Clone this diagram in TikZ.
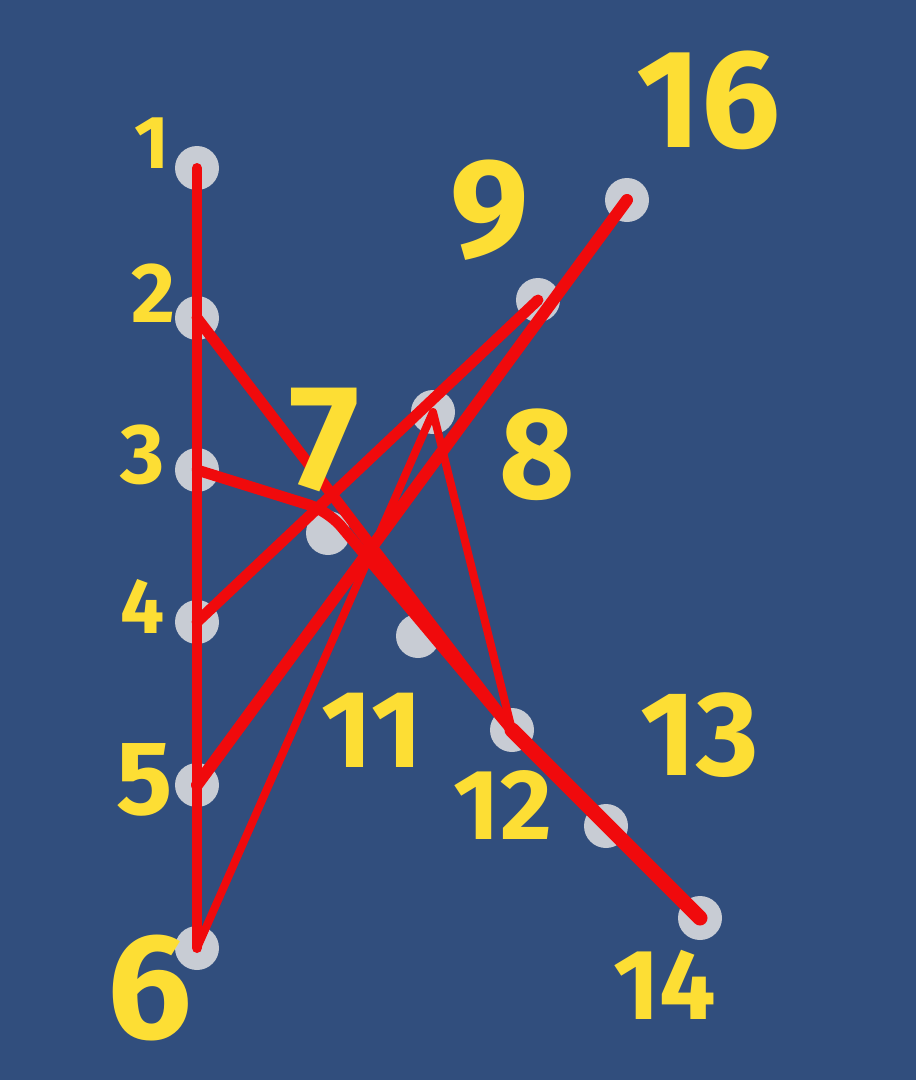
\documentclass[tikz,border=0pt]{standalone}
\usepackage{fontspec}
\setmainfont{Fira Sans}
\definecolor{fondbleu}{RGB}{49,78,125}
\definecolor{gris}{RGB}{200,204,212}
\definecolor{rouge}{RGB}{240,10,12}
\definecolor{jaune}{RGB}{253,222,52}
\tikzset{
    pion/.style={circle, fill=gris, minimum size=44pt, inner sep=0pt},
    fil/.style={rouge, line width=11pt, line cap=round, line join=round},
    num/.style={jaune, font=\fontsize{#1}{#1}\selectfont\bfseries, inner sep=0pt},
}
\begin{document}
\begin{tikzpicture}[x=1pt, y=-1pt]
    \fill[fondbleu] (0,0) rectangle (916,1080);
    \useasboundingbox (0,0) rectangle (916,1080);
    % les pions
    \node[pion] (p1) at (197,168) {};
    \node[pion] (p2) at (197,318) {};
    \node[pion] (p3) at (197,470) {};
    \node[pion] (p4) at (197,622) {};
    \node[pion] (p5) at (197,785) {};
    \node[pion] (p6) at (197,948) {};
    \node[pion] (p7) at (328,533) {};
    \node[pion] (p8) at (433,412) {};
    \node[pion] (p9) at (538,300) {};
    \node[pion] (p11) at (418,636) {};
    \node[pion] (p12) at (512,730) {};
    \node[pion] (p13) at (606,826) {};
    \node[pion] (p14) at (700,918) {};
    \node[pion] (p16) at (627,200) {};
    % les fils
    \draw[fil, line width=10pt] (p1.center) -- (p6.center);
    \draw[fil] (p2.center) -- (p12.center);
    \draw[fil, rounded corners=20pt] (p3.center) -- (p7.north) -- (p12.center);
    \draw[fil] (p4.center) -- (p9.center);
    \draw[fil, line width=12pt] (p5.center) -- (p16.center);
    \draw[fil, line width=8pt] (p6.center) -- (p8.center) -- (p12.center);
    \draw[fil, line width=15pt] (p12.center) -- (p14.center);
    % les numeros
    \node[num=75] (n1) at (152,143) {1};
    \node[num=85] (n2) at (153,293) {2};
    \node[num=85] (n3) at (143,455) {3};
    \node[num=78] (n4) at (143,606) {4};
    \node[num=105] (n5) at (145,780) {5};
    \node[num=150] (n6) at (150,988) {6};
    \node[num=150] (n7) at (325,440) {7};
    \node[num=130] (n8) at (537,455) {8};
    \node[num=140] (n9) at (490,210) {9};
    \node[num=110] (n11) at (372,730) {11};
    \node[num=100] (n12) at (503,805) {12};
    \node[num=120] (n13) at (700,735) {13};
    \node[num=100] (n14) at (665,985) {14};
    \node[num=140] (n16) at (708,100) {16};
\end{tikzpicture}
\end{document}
